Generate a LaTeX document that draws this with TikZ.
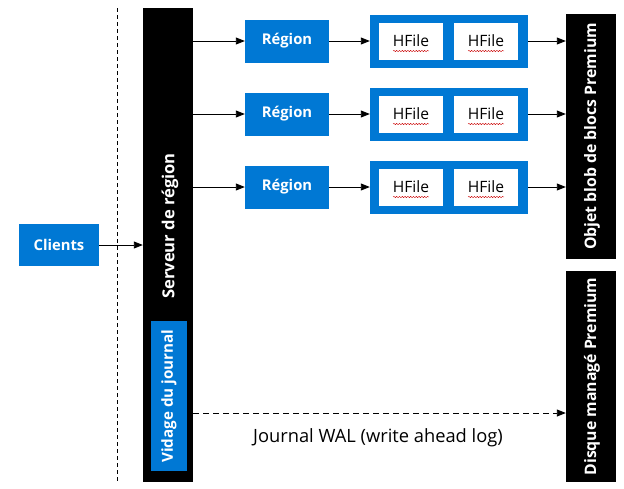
\documentclass[tikz,border=0pt]{standalone}
\usepackage{fontspec}
\setmainfont{Open Sans}
\usetikzlibrary{arrows.meta,decorations.pathmorphing}
\definecolor{msblue}{RGB}{0,120,212}
\tikzset{
  bluebox/.style={fill=msblue,text=white,font=\bfseries\fontsize{14.8}{16}\selectfont,inner sep=0pt},
  blackbar/.style={fill=black,inner sep=0pt},
  barlabel/.style={rotate=90,text=white,font=\bfseries\fontsize{15.8}{18}\selectfont,inner sep=0pt},
  hfile/.style={fill=white,minimum width=64pt,minimum height=37pt,inner sep=0pt,font=\fontsize{15.6}{18}\selectfont},
  conn/.style={-{Triangle[length=9pt,width=7pt]},line width=0.9pt},
  spell/.style={draw=red!80!black,line width=0.4pt,decorate,decoration={snake,amplitude=0.7pt,segment length=2.8pt}}
}
\begin{document}
\begin{tikzpicture}[x=1pt,y=-1pt]
  \useasboundingbox (0,0) rectangle (624,488);
  %\draw[help lines,step=20] (0,0) grid (624,488);
  \draw[dash pattern=on 4pt off 3pt,line width=0.8pt] (117,8) -- (117,482);
  \node[bluebox,minimum width=80pt,minimum height=42pt] (clients) at (59,245) {Clients};
  \node[blackbar,minimum width=50pt,minimum height=474pt] (server) at (168,245) {};
  \node[barlabel,font=\bfseries\fontsize{16.6}{18}\selectfont] (serverlabel) at (170,226) {Serveur de région};
  \node[bluebox,rotate=90,minimum width=150pt,minimum height=36pt,font=\bfseries\fontsize{15.2}{17}\selectfont] (flush) at (169,396) {Vidage du journal};
  \node[blackbar,minimum width=50pt,minimum height=245pt] (blob) at (591,136.5) {};
  \node[barlabel] (bloblabel) at (592,136.5) {Objet blob de blocs Premium};
  \node[blackbar,minimum width=50pt,minimum height=211pt] (disk) at (591,376.5) {};
  \node[barlabel] (disklabel) at (592,376.5) {Disque managé Premium};
  \draw[conn] (clients) -- (server.west |- clients);
  % three region rows
  \foreach \i/\y in {1/41,2/114,3/187}{
    \node[bluebox,minimum width=84pt,minimum height=43pt] (region\i) at (287,\y) {Région};
    \node[fill=msblue,minimum width=158pt,minimum height=53pt,inner sep=0pt] (store\i) at (449,\y) {};
    \node[hfile] (hfa\i) at (411,\y) {HFile};
    \node[hfile] (hfb\i) at (486,\y) {HFile};
    \draw[spell] ([xshift=-18pt,yshift=-10pt]hfa\i.center) -- ([xshift=18pt,yshift=-10pt]hfa\i.center);
    \draw[spell] ([xshift=-18pt,yshift=-10pt]hfb\i.center) -- ([xshift=18pt,yshift=-10pt]hfb\i.center);
    \draw[conn] (server.east |- region\i) -- (region\i);
    \draw[conn] (region\i) -- (store\i);
    \draw[conn] (store\i) -- (blob.west |- store\i);
  }
  \draw[conn,dash pattern=on 6pt off 4pt] (server.east |- 0,413) -- (disk.west |- 0,413);
  \node[font=\fontsize{18.3}{20}\selectfont] (wal) at (378,438) {Journal WAL (write ahead log)};
\end{tikzpicture}
\end{document}
